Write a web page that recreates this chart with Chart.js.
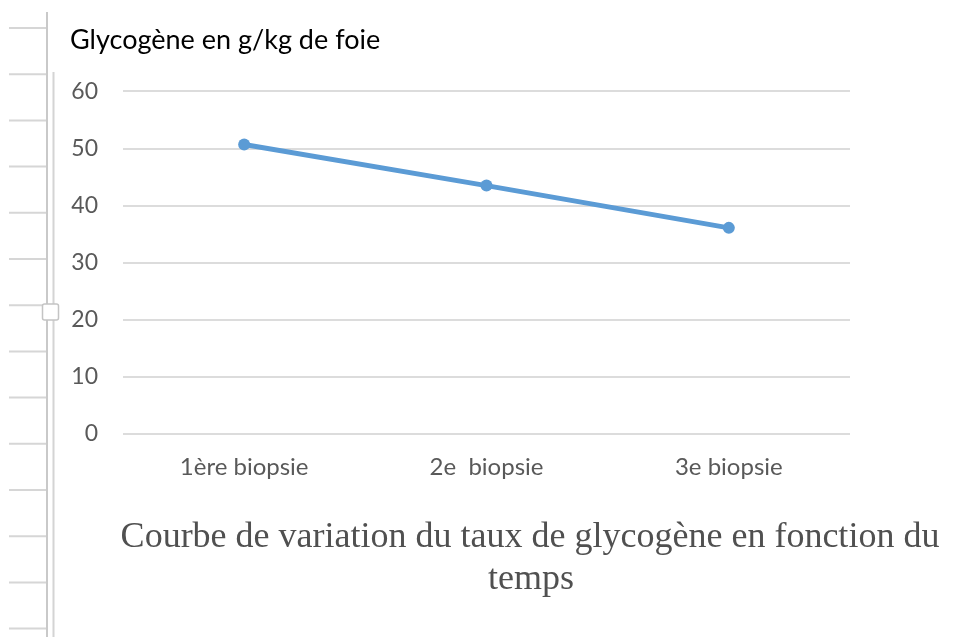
<!DOCTYPE html>
<html lang="fr">
<head>
<meta charset="utf-8">
<title>Glycogène</title>
<script src="https://cdn.jsdelivr.net/npm/chart.js@4/dist/chart.umd.min.js"></script>
<style>
  html, body { margin: 0; padding: 0; background: #fff; }
  #wrap { position: relative; width: 955px; height: 637px; }
</style>
</head>
<body>
<div id="wrap"><canvas id="graph"></canvas></div>
<script>
// taux de glycogène mesuré à chaque biopsie
const biopsies = ['1ère biopsie', '2e  biopsie', '3e biopsie'];
const glycogene = [50.7, 43.5, 36.1];
const yTicks = [0, 10, 20, 30, 40, 50, 60];
const axisTitle = 'Glycogène en g/kg de foie';
const legende = ['Courbe de variation du taux de glycogène en fonction du', 'temps'];

Chart.defaults.font.family = 'Lato';

// règle de la page (traits à gauche)
const regle = {
    id: 'regle',
    beforeDraw(chart) {
        const ctx = chart.ctx;
        ctx.save();
        ctx.strokeStyle = '#d6d6d6';
        ctx.lineWidth = 2;
        for (let y = 28; y < 640; y += 46.2) {
            ctx.beginPath();
            ctx.moveTo(9, y);
            ctx.lineTo(46, y);
            ctx.stroke();
        }
        ctx.strokeStyle = '#c9c9c9';
        ctx.beginPath();
        ctx.moveTo(47, 12);
        ctx.lineTo(47, 637);
        ctx.stroke();
        ctx.strokeStyle = '#d4d4d4';
        ctx.beginPath();
        ctx.moveTo(53.5, 72);
        ctx.lineTo(53.5, 637);
        ctx.stroke();
        // petit repère
        ctx.fillStyle = '#fff';
        ctx.strokeStyle = '#c4c4c4';
        ctx.lineWidth = 1.5;
        ctx.beginPath();
        ctx.roundRect(42.5, 304, 16, 16, 2);
        ctx.fill();
        ctx.stroke();
        ctx.restore();
    }
};

// légende du document sous le graphique
const legendeTexte = {
    id: 'legendeTexte',
    afterDraw(chart) {
        const ctx = chart.ctx;
        ctx.save();
        ctx.font = '36px "Liberation Serif"';
        ctx.fillStyle = '#505050';
        ctx.textAlign = 'center';
        ctx.textBaseline = 'alphabetic';
        ctx.fillText(legende[0], 530, 547);
        ctx.fillText(legende[1], 531, 589);
        ctx.restore();
    }
};

const config = {
    type: 'line',
    data: {
        labels: biopsies,
        datasets: [{
            data: glycogene,
            borderColor: '#5B9BD5',
            backgroundColor: '#5B9BD5',
            borderWidth: 5,
            pointRadius: 6,
            pointBorderWidth: 0,
            pointBackgroundColor: '#5B9BD5',
            tension: 0,
        }]
    },
    options: {
        responsive: true,
        maintainAspectRatio: false,
        animation: false,
        layout: {
            padding: { left: 70, right: 105, top: 0, bottom: 0 },
        },
        plugins: {
            legend: { display: false },
            tooltip: { enabled: false },
            title: {
                display: true,
                text: axisTitle,
                align: 'start',
                color: '#000',
                font: { size: 27, weight: 'normal' },
                padding: { top: 24, bottom: 35 },
            },
        },
        scales: {
            x: {
                type: 'category',
                offset: true,
                grid: { display: false, drawTicks: false },
                border: { display: false },
                ticks: {
                    color: '#595959',
                    font: { size: 24 },
                    padding: 19,
                    maxRotation: 0,
                },
                afterFit(scale) { scale.height = 203; },
            },
            y: {
                min: 0,
                max: 60,
                grid: { color: '#dcdcdc', lineWidth: 2, drawTicks: false },
                border: { display: false },
                afterBuildTicks(scale) {
                    scale.ticks = yTicks.map(v => ({ value: v }));
                },
                ticks: {
                    color: '#595959',
                    font: { size: 23 },
                    padding: 25,
                },
                afterFit(scale) { scale.width = 53; },
            },
        },
    },
    plugins: [regle, legendeTexte],
};

new Chart(document.getElementById('graph'), config);
</script>
</body>
</html>
